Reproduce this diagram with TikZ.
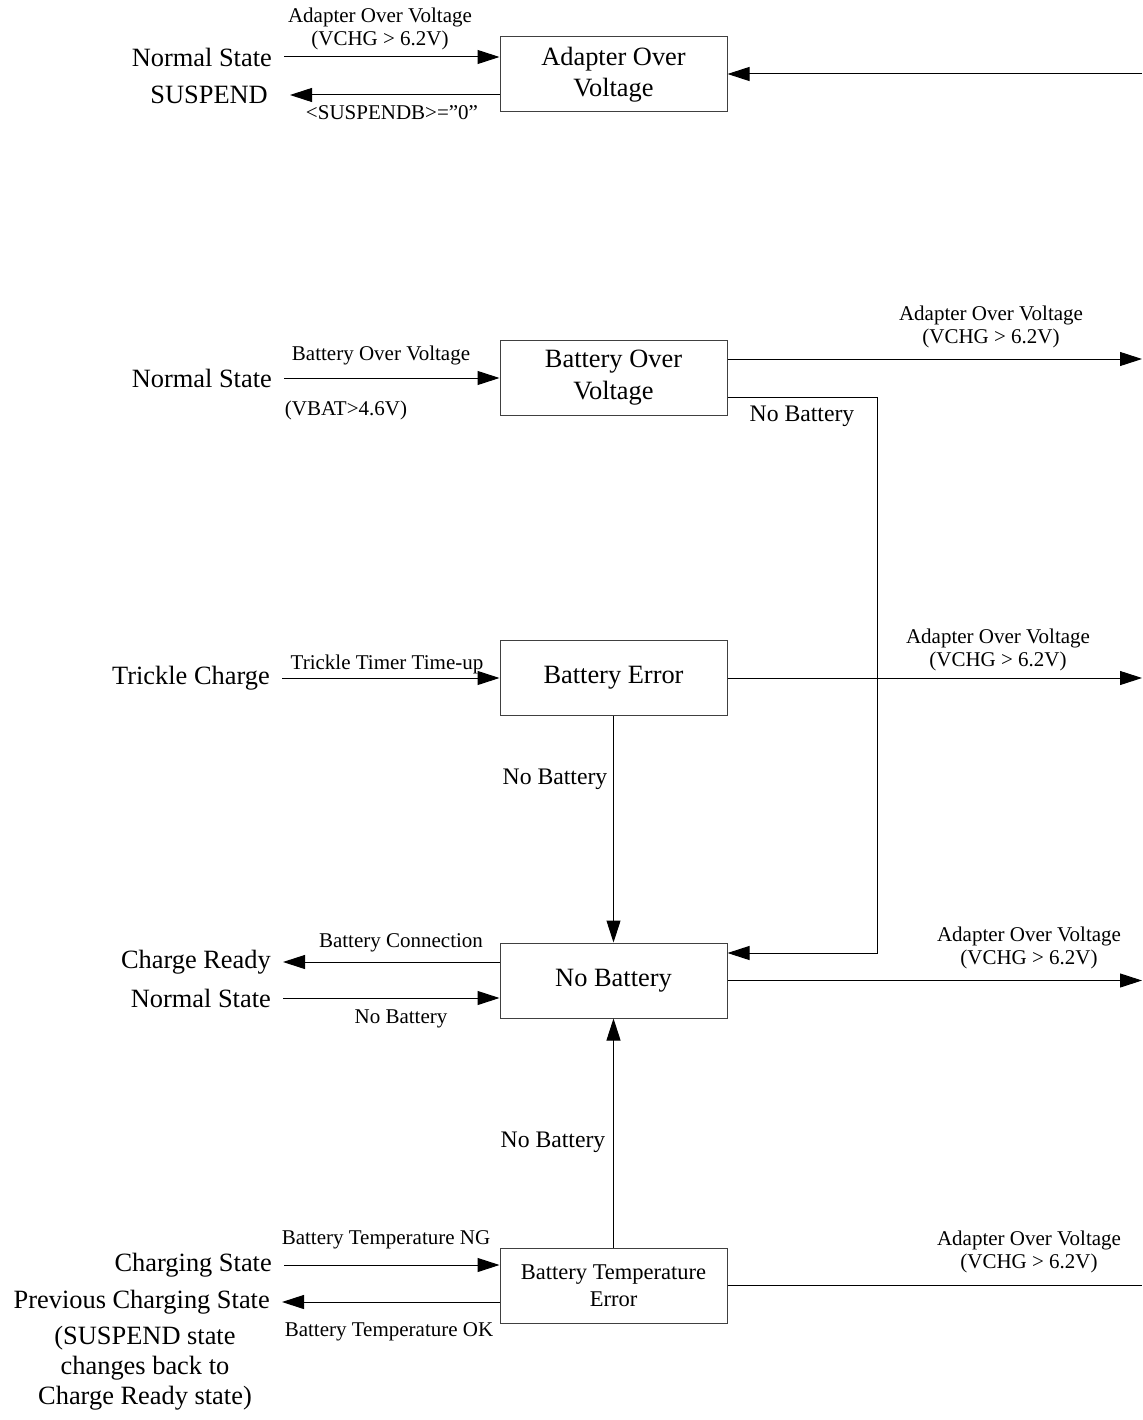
\documentclass[tikz,border=0pt]{standalone}
\usepackage{fontspec}
\setmainfont{Liberation Serif}
\usetikzlibrary{arrows.meta}
\newcommand\fbig{\fontsize{26.4}{31.5}\selectfont}
\newcommand\fmed{\fontsize{23.7}{27}\selectfont}
\newcommand\fsmall{\fontsize{21}{22.5}\selectfont}
\tikzset{
  state/.style={draw=black!75, line width=1pt, minimum width=227pt, minimum height=75pt, align=center, font=\fbig, inner sep=0pt},
  side/.style={anchor=east, font=\fbig, inner xsep=12pt, inner ysep=0pt},
  lbl/.style={font=\fsmall, align=center, inner sep=0pt},
  arr/.style={-{Triangle[length=22pt,width=14pt]}, line width=1pt},
  plain/.style={line width=1pt}
}
\begin{document}
\begin{tikzpicture}[x=1pt,y=-1pt]
\useasboundingbox (0,0) rectangle (1142,1420);

\node[state] (aov) at (613.5,74.5) {Adapter Over\\Voltage};
\node[state] (bov) at (613.5,377.5) {Battery Over\\Voltage};
\node[state] (berr) at (613.5,678) {Battery Error};
\node[state] (nobat) at (613.5,980.5) {No Battery};
\node[state, font={\fontsize{22.5}{27}\selectfont}] (btemp) at (613.5,1285.5) {Battery Temperature\\Error};

\node[side] (ns1) at (284,57) {Normal State};
\node[side, inner xsep=22pt] (susp) at (290,95) {SUSPEND};
\node[side] (ns2) at (284,378) {Normal State};
\node[side] (tc) at (282,678) {Trickle Charge};
\node[side] (cr) at (283,962) {Charge Ready};
\node[side] (ns3) at (283,998) {Normal State};
\node[side] (cs) at (284,1265) {Charging State};
\node[side] (pcs) at (282,1302) {Previous Charging State};
\node[font={\fontsize{26.4}{30}\selectfont}, align=center] (note) at (145,1368) {(SUSPEND state\\changes back to\\Charge Ready state)};

\coordinate (in1) at (1142,74);
\coordinate (o2) at (1142,359);
\coordinate (o3) at (1142,678);
\coordinate (o4) at (1142,980.5);
\coordinate (o5) at (1142,1285.5);
\coordinate (nbturn) at (877,397);
\coordinate (nbdown) at (877,953);

\draw[arr] (ns1.east) -- (ns1.east -| aov.west);
\draw[arr] (susp.east -| aov.west) -- (susp.east);
\draw[arr] (in1) -- (in1 -| aov.east);

\draw[arr] (ns2.east) -- (ns2.east -| bov.west);
\draw[arr] (o2 -| bov.east) -- (o2);
\draw[arr] (nbturn -| bov.east) -- (nbturn) -- (nbdown) -- (nbdown -| nobat.east);

\draw[arr] (tc.east) -- (tc.east -| berr.west);
\draw[arr] (berr.east) -- (o3);
\draw[arr] (berr) -- (nobat);

\draw[arr] (cr.east -| nobat.west) -- (cr.east);
\draw[arr] (ns3.east) -- (ns3.east -| nobat.west);
\draw[arr] (nobat.east) -- (o4);

\draw[arr] (btemp) -- (nobat);
\draw[arr] (cs.east) -- (cs.east -| btemp.west);
\draw[arr] (pcs.east -| btemp.west) -- (pcs.east);
\draw[plain] (btemp.east) -- (o5);

\node[lbl] (l1) at (380,29) {Adapter Over Voltage\\(VCHG > 6.2V)};
\node[lbl] (l2) at (392,113) {<SUSPENDB>=”0”};
\node[lbl] (l3) at (381,355) {Battery Over Voltage};
\node[lbl] (l4) at (346,410) {(VBAT>4.6V)};
\node[lbl] (l5) at (991,327) {Adapter Over Voltage\\(VCHG > 6.2V)};
\node[lbl, font=\fmed] (l6) at (802,416) {No Battery};
\node[lbl] (l7) at (387,664) {Trickle Timer Time-up};
\node[lbl] (l8) at (998,650) {Adapter Over Voltage\\(VCHG > 6.2V)};
\node[lbl, font=\fmed] (l9) at (555,779) {No Battery};
\node[lbl] (l10) at (401,943) {Battery Connection};
\node[lbl] (l11) at (401,1019) {No Battery};
\node[lbl] (l12) at (1029,948) {Adapter Over Voltage\\(VCHG > 6.2V)};
\node[lbl, font=\fmed] (l13) at (553,1142) {No Battery};
\node[lbl] (l14) at (386,1240) {Battery Temperature NG};
\node[lbl] (l15) at (389,1332) {Battery Temperature OK};
\node[lbl] (l16) at (1029,1252) {Adapter Over Voltage\\(VCHG > 6.2V)};
\end{tikzpicture}
\end{document}
